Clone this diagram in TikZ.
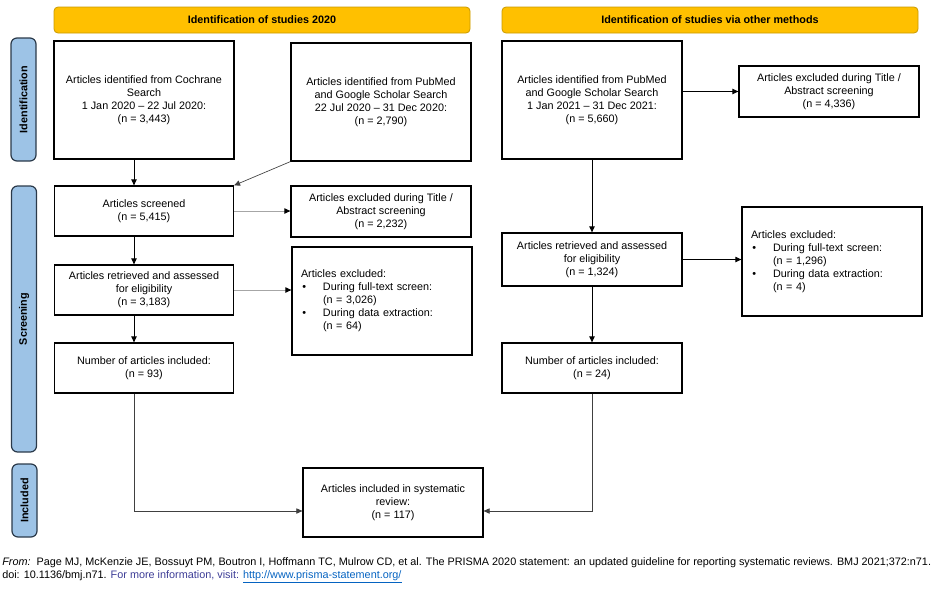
\documentclass[tikz,border=0pt]{standalone}
\usepackage{fontspec}
\setmainfont{Liberation Sans}
\usetikzlibrary{arrows.meta}

\definecolor{hdrgold}{HTML}{FFC000}
\definecolor{hdredge}{HTML}{C99A00}
\definecolor{barblue}{HTML}{9DC3E6}
\definecolor{baredge}{HTML}{2B3A4A}
\definecolor{stepgray}{HTML}{A6A6A6}
\definecolor{infoblue}{HTML}{3C3C96}
\definecolor{linkblue}{HTML}{0563C1}

\tikzset{
  every node/.style={font=\fontsize{8.1}{9.75}\selectfont},
  box/.style={draw=black, line width=0.9pt, align=center, inner sep=2pt},
  listbox/.style={box, align=left, text width=121.5pt, inner xsep=6.75pt},
  header/.style={draw=hdredge, line width=0.6pt, fill=hdrgold, rounded corners=3pt,
    minimum width=312pt, minimum height=19.5pt, font=\fontsize{8.1}{9.75}\selectfont\bfseries},
  sidebar/.style={draw=baredge, line width=0.9pt, fill=barblue, rounded corners=4.5pt,
    minimum height=18.75pt, rotate=90, font=\fontsize{8.1}{9.75}\selectfont\bfseries},
  arr/.style={-{Triangle[length=4.5pt,width=4pt]}, line width=0.7pt},
  garr/.style={arr, draw=stepgray, -{Triangle[length=4.5pt,width=4pt,color=black]}},
}

\begin{document}
\begin{tikzpicture}[x=0.75pt, y=-0.75pt]
    \useasboundingbox (0,0) rectangle (936,590);

    % Kopfzeilen
    \node[header] (hdrL) at (262,20) {Identification of studies 2020};
    \node[header] (hdrR) at (710,20) {Identification of studies via other methods};

    % Seitenleisten
    \node[sidebar, minimum width=92.25pt] (barId) at (23.5,99.5) {Identification};
    \node[sidebar, minimum width=199.5pt] (barScr) at (24,319) {Screening};
    \node[sidebar, minimum width=54.75pt] (barInc) at (24.5,500.5) {Included};

    % Linke Spalte
    \node[box, minimum width=135pt, minimum height=88.5pt] (cochrane) at (144,100)
      {Articles identified from Cochrane\\Search\\1 Jan 2020 -- 22 Jul 2020:\\(n = 3,443)};
    \node[box, minimum width=135pt, minimum height=88.5pt] (pub20) at (381,102)
      {Articles identified from PubMed\\and Google Scholar Search\\22 Jul 2020 -- 31 Dec 2020:\\(n = 2,790)};
    \node[box, minimum width=134.25pt, minimum height=37.5pt] (screened) at (144,211)
      {Articles screened\\(n = 5,415)};
    \node[box, minimum width=135pt, minimum height=38.25pt] (excl1) at (381,211.5)
      {Articles excluded during Title /\\Abstract screening\\(n = 2,232)};
    \node[box, minimum width=134.25pt, minimum height=37.5pt] (retr) at (144,290)
      {Articles retrieved and assessed\\for eligibility\\(n = 3,183)};
    \node[listbox, minimum height=81pt] (excl2) at (382,301)
      {Articles excluded:\\
       \makebox[16.5pt][l]{\hspace{1pt}\textbullet}During full-text screen:\\
       \hspace*{16.5pt}(n = 3,026)\\
       \makebox[16.5pt][l]{\hspace{1pt}\textbullet}During data extraction:\\
       \hspace*{16.5pt}(n = 64)};
    \node[box, minimum width=134.25pt, minimum height=37.5pt] (inc93) at (144,368)
      {Number of articles included:\\(n = 93)};

    % Rechte Spalte
    \node[box, minimum width=135pt, minimum height=88.5pt] (pub21) at (592,100)
      {Articles identified from PubMed\\and Google Scholar Search\\1 Jan 2021 -- 31 Dec 2021:\\(n = 5,660)};
    \node[box, minimum width=135pt, minimum height=38.25pt] (excl3) at (829,91.5)
      {Articles excluded during Title /\\Abstract screening\\(n = 4,336)};
    \node[box, minimum width=135pt, minimum height=39.75pt] (retr2) at (592,259.5)
      {Articles retrieved and assessed\\for eligibility\\(n = 1,324)};
    \node[listbox, minimum height=81.75pt] (excl4) at (832,261.5)
      {Articles excluded:\\
       \makebox[16.5pt][l]{\hspace{1pt}\textbullet}During full-text screen:\\
       \hspace*{16.5pt}(n = 1,296)\\
       \makebox[16.5pt][l]{\hspace{1pt}\textbullet}During data extraction:\\
       \hspace*{16.5pt}(n = 4)};
    \node[box, minimum width=135pt, minimum height=37.5pt] (inc24) at (592,368)
      {Number of articles included:\\(n = 24)};

    % Ergebnis
    \node[box, minimum width=135pt, minimum height=51.75pt] (final) at (393,502.5)
      {Articles included in systematic\\review:\\(n = 117)};

    % Hilfspunkte
    \coordinate (colL) at (134,0);
    \coordinate (joinL) at (final.west |- 0,511);
    \coordinate (joinR) at (final.east |- 0,511);

    % Pfeile links
    \draw[arr] (cochrane.south -| colL) -- (screened.north -| colL);
    \draw[arr, line width=0.5pt, draw=black!75] (pub20.south west) -- (screened.north east);
    \draw[garr] (screened.east) -- (excl1.west |- screened.east);
    \draw[arr] (screened.south -| colL) -- (retr.north -| colL);
    \draw[garr] (retr.east) -- (excl2.west |- retr.east);
    \draw[arr] (retr.south -| colL) -- (inc93.north -| colL);
    \draw[arr, line width=0.5pt, draw=black!75] (inc93.south -| colL) |- (joinL);

    % Pfeile rechts
    \draw[arr] (pub21.east |- excl3.west) -- (excl3.west);
    \draw[arr] (pub21.south) -- (retr2.north);
    \draw[arr] (retr2.east) -- (excl4.west |- retr2.east);
    \draw[arr] (retr2.south) -- (inc24.north);
    \draw[arr, line width=0.5pt, draw=black!75] (inc24.south) |- (joinR);

    % Quelle
    \node[anchor=base west, inner sep=0pt, font=\fontsize{8.13}{9.75}\selectfont] (cite) at (2,565)
      {\textit{From:}\ \ Page MJ, McKenzie JE, Bossuyt PM, Boutron I, Hoffmann TC, Mulrow CD, et al. The PRISMA 2020 statement: an updated guideline for reporting systematic reviews. BMJ 2021;372:n71.};
    \node[anchor=base west, inner sep=0pt, font=\fontsize{8.13}{9.75}\selectfont] (doi) at (2,578)
      {doi: 10.1136/bmj.n71. \textcolor{infoblue}{For more information, visit:} \textcolor{linkblue}{\underline{http://www.prisma-statement.org/}}};
\end{tikzpicture}
\end{document}
